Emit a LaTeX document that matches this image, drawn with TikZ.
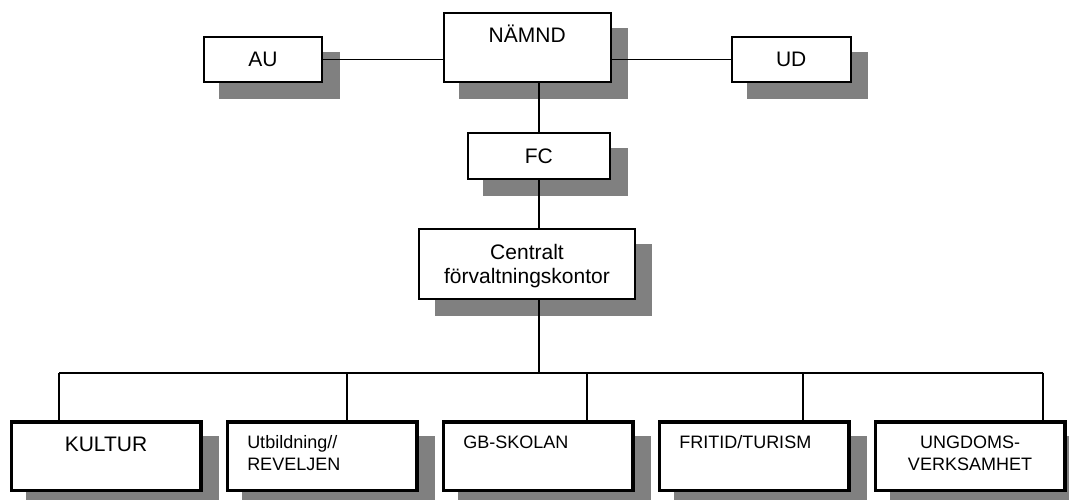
\documentclass[tikz,border=0pt]{standalone}
\usepackage{fontspec}
\setmainfont{Liberation Sans}
\usepackage{tikz}
\usetikzlibrary{backgrounds}
\definecolor{shadowgray}{RGB}{128,128,128}
\tikzset{
  topbox/.style={shape=rectangle,draw=black,fill=white,line width=2pt,inner sep=0pt,
    font=\fontsize{21}{23.5}\selectfont},
  lowbox/.style={shape=rectangle,draw=black,fill=white,line width=3.5pt,
    inner xsep=20pt,inner ysep=14.25pt,text width=149.5pt,align=left,
    font=\fontsize{18}{22}\selectfont,text height=12.9pt,text depth=27.1pt},
  link/.style={line width=1.9pt},
  shade/.style={fill=shadowgray}
}
\newcommand{\boxshadow}[1]{%
  \fill[shade] ([xshift=16.5pt,yshift=-16pt]#1.north west) rectangle ([xshift=16.5pt,yshift=-16pt]#1.south east);}

\begin{document}
\begin{tikzpicture}[x=1pt,y=-1pt]
        \useasboundingbox (0,0) rectangle (1069,500);
        \node [topbox,anchor=north west,minimum width=118.6pt,minimum height=45.6pt] (au) at (202.7,35.7) {AU};
        \node [topbox,anchor=north west,minimum width=167pt,inner ysep=14.3pt,text height=15pt,text depth=25.7pt] (namnd) at (442.7,12) {NÄMND};
        \node [topbox,anchor=north west,minimum width=119pt,minimum height=45.6pt] (ud) at (730.7,35.7) {UD};
        \node [topbox,anchor=north west,minimum width=142.3pt,minimum height=45.7pt] (fc) at (466.7,132.3) {FC};
        \node [topbox,anchor=north west,minimum width=215.4pt,minimum height=70.3pt,align=center,text height=38.5pt,text depth=0pt] (central) at (418.3,227.7) {Centralt\\förvaltningskontor};

        \node [lowbox,anchor=north west,align=center,font=\fontsize{21}{24}\selectfont,text height=15pt,text depth=25pt] (kultur) at (9.5,420) {KULTUR};
        \node [lowbox,anchor=north west] (utbildning) at (225.5,420) {Utbildning//\\REVELJEN};
        \node [lowbox,anchor=north west] (gbskolan) at (441.5,420) {GB-SKOLAN};
        \node [lowbox,anchor=north west] (fritid) at (657.5,420) {FRITID/TURISM};
        \node [lowbox,anchor=north west,align=center] (ungdom) at (873.5,420) {UNGDOMS-\\VERKSAMHET};

        \begin{scope}[on background layer]
            \foreach \b in {au,namnd,ud,fc,central,kultur,utbildning,gbskolan,fritid,ungdom}
                {\boxshadow{\b}}
        \end{scope}

        \coordinate (bus) at (539.3,372.7);
        \coordinate (d1) at (59.2,372.7);
        \coordinate (d2) at (346.8,372.7);
        \coordinate (d3) at (586.7,372.7);
        \coordinate (d4) at (803.3,372.7);
        \coordinate (d5) at (1043,372.7);

        \draw [link] (au.east) -- (au.east -| namnd.west);
        \draw [link] (namnd.east |- ud.west) -- (ud.west);
        \draw [link] (fc.north) -- (fc.north |- namnd.south);
        \draw [link] (fc.south) -- (fc.south |- central.north);
        \draw [link] (bus |- central.south) -- (bus);
        \draw [link] (d1) -- (d5);
        \draw [link] (d1) -- (d1 |- kultur.north);
        \draw [link] (d2) -- (d2 |- utbildning.north);
        \draw [link] (d3) -- (d3 |- gbskolan.north);
        \draw [link] (d4) -- (d4 |- fritid.north);
        \draw [link] (d5) -- (d5 |- ungdom.north);
\end{tikzpicture}
\end{document}
